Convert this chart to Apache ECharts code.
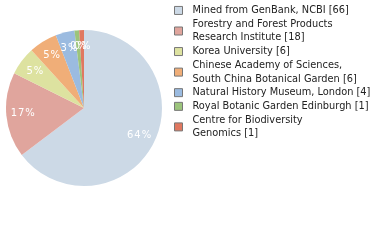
<!DOCTYPE html>
<html><head><meta charset="utf-8">
<script src="https://cdn.jsdelivr.net/npm/echarts@6/dist/echarts.min.js"></script>
<style>html,body{margin:0;padding:0;background:#fff}#c{width:380px;height:240px}</style>
</head><body><div id="c"></div>
<script>
const categories = [
  "Mined from GenBank, NCBI",
  "Forestry and Forest Products\nResearch Institute",
  "Korea University",
  "Chinese Academy of Sciences,\nSouth China Botanical Garden",
  "Natural History Museum, London",
  "Royal Botanic Garden Edinburgh",
  "Centre for Biodiversity\nGenomics"
];
const values = [66, 18, 6, 6, 4, 1, 1];
const colors = ["#ccd9e6", "#e0a59d", "#dde2a0", "#f0ae78", "#9bbbe0", "#9cc47c", "#e07860"];

const total = values.reduce((a, b) => a + b, 0);
const data = categories.map((n, i) => ({ name: n, value: values[i], itemStyle: { color: colors[i] } }));
const pct = v => (String(Math.floor(v / total * 100)) + '%').split('').join('\u200a');
const chart = echarts.init(document.getElementById('c'), null, { renderer: 'canvas' });
chart.setOption({
  animation: false,
  legend: {
    orient: 'vertical', left: 174, top: 3.6, padding: 0,
    itemWidth: 8, itemHeight: 8, itemGap: 0,
    icon: 'rect',
    itemStyle: { borderColor: '#777', borderWidth: 1 },
    textStyle: { fontFamily: 'DejaVu Sans', fontSize: 9.8, color: '#222', lineHeight: 13.7, padding: [0, 0, 0, 5] },
    formatter: name => name + ' [' + values[categories.indexOf(name)] + ']',
    data: categories
  },
  series: [{
    type: 'pie', center: [84, 108], radius: [0, 78],
    startAngle: 90, clockwise: true,
    label: { show: false }, labelLine: { show: false },
    emphasis: { disabled: true },
    itemStyle: { borderWidth: 0 },
    data: data
  }, {
    type: 'pie', center: [84, 108], radius: [39, 78],
    startAngle: 90, clockwise: true,
    silent: true, avoidLabelOverlap: false,
    labelLayout: { hideOverlap: false },
    itemStyle: { color: 'rgba(0,0,0,0)', borderWidth: 0 },
    labelLine: { show: false },
    label: {
      show: true, position: 'inside', color: '#fff',
      fontFamily: 'DejaVu Sans', fontSize: 10,
      formatter: p => pct(p.value)
    },
    data: categories.map((n, i) => ({ name: n, value: values[i] }))
  }]
});
</script></body></html>
